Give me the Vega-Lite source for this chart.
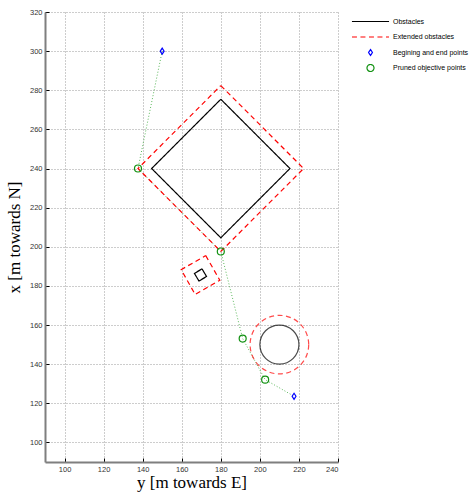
{
  "$schema": "https://vega.github.io/schema/vega-lite/v6.json",
  "autosize": {"type": "none"},
  "width": 293,
  "height": 450,
  "padding": {"left": 45, "top": 12, "right": 138, "bottom": 31},
  "background": "white",
  "config": {
    "view": {"stroke": null},
    "axis": {
      "grid": true,
      "gridDash": [1, 2],
      "gridColor": "#9a9a9a",
      "gridWidth": 1,
      "domainColor": "#7f7f7f",
      "domainWidth": 2,
      "tickColor": "#000000",
      "tickSize": -4,
      "tickWidth": 1,
      "labelPadding": 7,
      "labelFont": "Liberation Sans",
      "labelFontSize": 7.5,
      "labelColor": "#333333",
      "titleFont": "Liberation Serif",
      "titleFontSize": 17,
      "titleFontWeight": "normal",
      "titleColor": "#000000"
    },
    "legend": {
      "orient": "none",
      "legendX": 321,
      "legendY": 5,
      "padding": 0,
      "gridAlign": "all",
      "labelFont": "Liberation Sans",
      "labelFontSize": 7,
      "labelColor": "#000000",
      "labelOffset": 18,
      "rowPadding": 2.5,
      "symbolSize": 49,
      "symbolStrokeWidth": 1.2,
      "symbolFillColor": "transparent"
    }
  },
  "datasets": {
    "obstacles": [
      {"series": "Obstacles", "id": "big", "ord": 0, "E": 180, "N": 275.4},
      {"series": "Obstacles", "id": "big", "ord": 1, "E": 215.4, "N": 240},
      {"series": "Obstacles", "id": "big", "ord": 2, "E": 180, "N": 204.6},
      {"series": "Obstacles", "id": "big", "ord": 3, "E": 144.6, "N": 240},
      {"series": "Obstacles", "id": "big", "ord": 4, "E": 180, "N": 275.4},
      {"series": "Extended obstacles", "id": "bigext", "ord": 0, "E": 180, "N": 282.4},
      {"series": "Extended obstacles", "id": "bigext", "ord": 1, "E": 222.4, "N": 240},
      {"series": "Extended obstacles", "id": "bigext", "ord": 2, "E": 180, "N": 197.6},
      {"series": "Extended obstacles", "id": "bigext", "ord": 3, "E": 137.6, "N": 240},
      {"series": "Extended obstacles", "id": "bigext", "ord": 4, "E": 180, "N": 282.4},
      {"series": "Obstacles", "id": "small", "ord": 0, "E": 170.4, "N": 188.7},
      {"series": "Obstacles", "id": "small", "ord": 1, "E": 172.7, "N": 184.8},
      {"series": "Obstacles", "id": "small", "ord": 2, "E": 168.8, "N": 182.5},
      {"series": "Obstacles", "id": "small", "ord": 3, "E": 166.5, "N": 186.4},
      {"series": "Obstacles", "id": "small", "ord": 4, "E": 170.4, "N": 188.7},
      {"series": "Extended obstacles", "id": "smallext", "ord": 0, "E": 172.3, "N": 195.5},
      {"series": "Extended obstacles", "id": "smallext", "ord": 1, "E": 179.5, "N": 182.9},
      {"series": "Extended obstacles", "id": "smallext", "ord": 2, "E": 166.9, "N": 175.6},
      {"series": "Extended obstacles", "id": "smallext", "ord": 3, "E": 159.7, "N": 188.3},
      {"series": "Extended obstacles", "id": "smallext", "ord": 4, "E": 172.3, "N": 195.5}
    ],
    "circles": [
      {"series": "Obstacles", "E": 210, "N": 150}
    ],
    "path": [
      {"ord": 0, "E": 150, "N": 300},
      {"ord": 1, "E": 137.6, "N": 240},
      {"ord": 2, "E": 180, "N": 197.6},
      {"ord": 3, "E": 191.2, "N": 153.1},
      {"ord": 4, "E": 202.7, "N": 132.1},
      {"ord": 5, "E": 217.5, "N": 123.6}
    ],
    "points": [
      {"series": "Begining and end points", "E": 150, "N": 300},
      {"series": "Begining and end points", "E": 217.5, "N": 123.6},
      {"series": "Pruned objective points", "E": 137.6, "N": 240},
      {"series": "Pruned objective points", "E": 180, "N": 197.6},
      {"series": "Pruned objective points", "E": 191.2, "N": 153.1},
      {"series": "Pruned objective points", "E": 202.7, "N": 132.1}
    ]
  },
  "encoding": {
    "x": {
      "field": "E", "type": "quantitative",
      "scale": {"domain": [90, 240], "nice": false, "zero": false},
      "axis": {"values": [100, 120, 140, 160, 180, 200, 220, 240], "title": "y [m towards E]", "titlePadding": 2}
    },
    "y": {
      "field": "N", "type": "quantitative",
      "scale": {"domain": [90, 320], "nice": false, "zero": false},
      "axis": {"values": [100, 120, 140, 160, 180, 200, 220, 240, 260, 280, 300, 320], "title": "x [m towards N]", "titlePadding": 6}
    }
  },
  "layer": [
    {
      "data": {"name": "path"},
      "mark": {"type": "line", "color": "#5cb85c", "strokeWidth": 1, "strokeDash": [1, 2]},
      "encoding": {"order": {"field": "ord", "type": "quantitative"}}
    },
    {
      "data": {"name": "obstacles"},
      "mark": {"type": "line", "strokeWidth": 1.2},
      "encoding": {
        "detail": {"field": "id", "type": "nominal"},
        "order": {"field": "ord", "type": "quantitative"},
        "color": {
          "field": "series", "type": "nominal", "title": null,
          "scale": {
            "domain": ["Obstacles", "Extended obstacles", "Begining and end points", "Pruned objective points"],
            "range": ["#000000", "#ff0000", "#0000ff", "#119111"]
          },
          "legend": {
            "encode": {"symbols": {"update": {
              "stroke": {"scale": "color", "field": "value"},
              "fill": {"value": "transparent"},
              "shape": {"scale": "shape", "field": "value"},
              "strokeDash": {"scale": "strokeDash", "field": "value"}
            }}}
          }
        },
        "strokeDash": {
          "field": "series", "type": "nominal", "title": null, "legend": null,
          "scale": {
            "domain": ["Obstacles", "Extended obstacles", "Begining and end points", "Pruned objective points"],
            "range": [[1, 0], [5, 3.5], [1, 0], [1, 0]]
          }
        }
      }
    },
    {
      "data": {"name": "circles"},
      "mark": {"type": "point", "shape": "circle", "filled": false, "size": 1526, "stroke": "#000000", "strokeWidth": 1.2}
    },
    {
      "data": {"name": "circles"},
      "mark": {"type": "point", "shape": "circle", "filled": false, "size": 3434, "stroke": "#ff0000", "strokeWidth": 1.2, "strokeDash": [5, 3.5]}
    },
    {
      "data": {"name": "points"},
      "mark": {"type": "point", "filled": false, "size": 49, "strokeWidth": 1.2, "opacity": 1},
      "encoding": {
        "color": {
          "field": "series", "type": "nominal", "title": null,
          "scale": {
            "domain": ["Obstacles", "Extended obstacles", "Begining and end points", "Pruned objective points"],
            "range": ["#000000", "#ff0000", "#0000ff", "#119111"]
          },
          "legend": {
            "encode": {"symbols": {"update": {
              "stroke": {"scale": "color", "field": "value"},
              "fill": {"value": "transparent"},
              "shape": {"scale": "shape", "field": "value"},
              "strokeDash": {"scale": "strokeDash", "field": "value"}
            }}}
          }
        },
        "shape": {
          "field": "series", "type": "nominal", "title": null, "legend": null,
          "scale": {
            "domain": ["Obstacles", "Extended obstacles", "Begining and end points", "Pruned objective points"],
            "range": ["M-5.3,0L5.3,0", "M-5.3,0L5.3,0", "M-0.55,0L0,-0.86L0.55,0L0,0.86Z", "circle"]
          }
        }
      }
    }
  ]
}
